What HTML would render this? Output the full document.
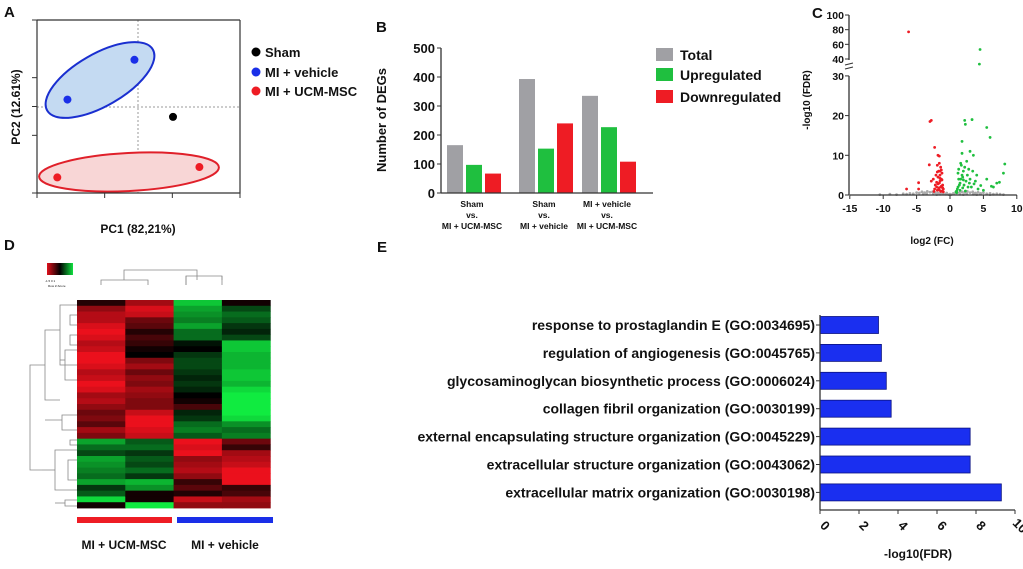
<!DOCTYPE html>
<html><head><meta charset="utf-8">
<style>
html,body{margin:0;padding:0;background:#fff;}
svg{display:block;font-family:"Liberation Sans",Arial,sans-serif;}
text{font-weight:bold;fill:#111;}
</style></head>
<body>
<svg id="fig" width="1023" height="569" viewBox="0 0 1023 569" xmlns="http://www.w3.org/2000/svg">
<!-- Panel labels -->
<text x="4" y="17" font-size="15">A</text>
<text x="376" y="32" font-size="15">B</text>
<text x="812" y="18" font-size="15">C</text>
<text x="4" y="250" font-size="15">D</text>
<text x="377" y="252" font-size="15">E</text>

<!-- Panel A -->
<g id="pA">
  <line x1="138" y1="20" x2="138" y2="193" stroke="#999" stroke-dasharray="2,2"/>
  <line x1="37" y1="107" x2="240" y2="107" stroke="#999" stroke-dasharray="2,2"/>
  <ellipse cx="100" cy="80" rx="61" ry="26" transform="rotate(-30 100 80)" fill="#c4daf2" stroke="#1a2fd0" stroke-width="2"/>
  <ellipse cx="129" cy="172" rx="90" ry="19" transform="rotate(-3 129 172)" fill="#f8d6d6" stroke="#e0202a" stroke-width="2"/>
  <path d="M37 20 V193 H240 V20" fill="none" stroke="#333" stroke-width="1.2"/>
  <line x1="37" y1="20" x2="240" y2="20" stroke="#333" stroke-width="1.2"/>
  <g id="pcaTicks" stroke="#333"></g>
  <g id="pcaPts"></g>
  <circle cx="256" cy="52" r="4.5" fill="#000"/>
  <circle cx="256" cy="72" r="4.5" fill="#1a2fe8"/>
  <circle cx="256" cy="91" r="4.5" fill="#ee1c24"/>
  <text x="265" y="57" font-size="13">Sham</text>
  <text x="265" y="77" font-size="13">MI + vehicle</text>
  <text x="265" y="96" font-size="13">MI + UCM-MSC</text>
  <text x="20" y="107" font-size="12" text-anchor="middle" transform="rotate(-90 20 107)">PC2 (12.61%)</text>
  <text x="138" y="233" font-size="12" text-anchor="middle">PC1 (82,21%)</text>
</g>

<!-- Panel B -->
<g id="pB">
  <g id="bBars"></g>
  <g id="bAxis"></g>
  <text x="386" y="120" font-size="13" text-anchor="middle" transform="rotate(-90 386 120)">Number of  DEGs</text>
  <rect x="656" y="48" width="17" height="13" fill="#a0a0a4"/>
  <rect x="656" y="68" width="17" height="13" fill="#1fbf3f"/>
  <rect x="656" y="90" width="17" height="13" fill="#ee1c24"/>
  <text x="680" y="60" font-size="14">Total</text>
  <text x="680" y="80" font-size="14">Upregulated</text>
  <text x="680" y="102" font-size="14">Downregulated</text>
</g>

<!-- Panel C -->
<g id="pC">
  <g id="cPts"></g>
  <g id="cAxis"></g>
  <text x="810" y="100" font-size="10" text-anchor="middle" transform="rotate(-90 810 100)">-log10 (FDR)</text>
  <text x="932" y="244" font-size="10" text-anchor="middle">log2 (FC)</text>
</g>

<!-- Panel D -->
<g id="pD">
  <defs><linearGradient id="keyg" x1="0" x2="1">
    <stop offset="0" stop-color="#e0101c"/><stop offset="0.5" stop-color="#000"/><stop offset="1" stop-color="#10e040"/></linearGradient></defs>
  <rect x="47" y="263" width="26" height="12" fill="url(#keyg)"/>
  <text x="45" y="282" font-size="3" style="font-weight:normal">-1.5   0   1</text>
  <text x="48" y="287" font-size="3" style="font-weight:normal">Row Z-Score</text>
  <g id="dCells"></g>
  <g id="dDend" fill="none" stroke="#888" stroke-width="0.8"></g>
  <rect x="77" y="517" width="95" height="6" fill="#ee1c24"/>
  <rect x="177" y="517" width="96" height="6" fill="#1a2fe8"/>
  <text x="124" y="549" font-size="12" text-anchor="middle">MI + UCM-MSC</text>
  <text x="225" y="549" font-size="12" text-anchor="middle">MI + vehicle</text>
</g>

<!-- Panel E -->
<g id="pE">
  <g id="eBars"></g>
  <g id="eAxis"></g>
  <text x="918" y="558" font-size="12" text-anchor="middle">-log10(FDR)</text>
</g>
</svg>
<script>
const NS="http://www.w3.org/2000/svg";
function mk(tag,attrs,parent,txt){const e=document.createElementNS(NS,tag);for(const k in attrs)e.setAttribute(k,attrs[k]);if(txt!==undefined)e.textContent=txt;parent.appendChild(e);return e;}

// ---------- Panel A data ----------
const pcaGroups=["Sham","MI + vehicle","MI + vehicle","MI + UCM-MSC","MI + UCM-MSC"];
const pcaX=[0.67,0.48,0.15,0.10,0.80];
const pcaY=[0.44,0.77,0.54,0.09,0.15];
const pcaColors={"Sham":"#000","MI + vehicle":"#1a2fe8","MI + UCM-MSC":"#ee1c24"};
const ax=v=>37+v*203, ay=v=>193-v*173;
const gT=document.getElementById('pcaTicks');
[0,1/3,2/3,1].forEach(t=>{const l=mk('line',{x1:ax(t),y1:193,x2:ax(t),y2:198},gT);

});
[0,1/3,1/2,2/3,1].forEach(t=>{const l=mk('line',{x1:32,y1:ay(t),x2:37,y2:ay(t)},gT);

});
const gP=document.getElementById('pcaPts');
pcaX.forEach((x,i)=>{const c=mk('circle',{cx:ax(x),cy:ay(pcaY[i]),r:4,fill:pcaColors[pcaGroups[i]]},gP);

});

// ---------- Panel B data ----------
const degCats=[["Sham","vs.","MI + UCM-MSC"],["Sham","vs.","MI + vehicle"],["MI + vehicle","vs.","MI + UCM-MSC"]];
const degTotal=[165,393,335];
const degUp=[97,153,227];
const degDown=[67,240,108];
const degTicks=[0,100,200,300,400,500];
const by=v=>193-v*0.29;
const gB=document.getElementById('bBars'), gBA=document.getElementById('bAxis');
const groupStart=[447,519,582];
const series=[[degTotal,"#a0a0a4","total"],[degUp,"#1fbf3f","up"],[degDown,"#ee1c24","down"]];
degCats.forEach((c,i)=>{
  series.forEach((s,j)=>{const v=s[0][i];const r=mk('rect',{x:groupStart[i]+j*19,y:by(v),width:16,height:by(0)-by(v),fill:s[1]},gB);
  
  });
  const cx=groupStart[i]+25;
  c.forEach((t,k)=>{const tx=mk('text',{x:cx,y:207+k*11,'font-size':8.5,'text-anchor':'middle'},gBA,t);
  
  });
});
mk('line',{x1:441,y1:by(500),x2:441,y2:by(0),stroke:'#333','stroke-width':1.3},gBA);
mk('line',{x1:441,y1:by(0),x2:653,y2:by(0),stroke:'#333','stroke-width':1.3},gBA);
degTicks.forEach(t=>{mk('line',{x1:437,y1:by(t),x2:441,y2:by(t),stroke:'#333'},gBA);
const tx=mk('text',{x:435,y:by(t)+5,'font-size':13,'text-anchor':'end'},gBA,t);

});

// ---------- Panel C data ----------
const volXTicks=[-15,-10,-5,0,5,10];
const volYTicksLow=[0,10,20,30];
const volYTicksHigh=[40,60,80,100];
const redX=[-6.2,-3.0,-2.8,-2.3,-3.1,-1.8,-1.6,-2.1,-2.8,-4.7,-4.7,-6.5,-2.5,-2.2,-1.5,-1.2,-1.4,-1.6,-1.3,-1.8,-1.5,-1.7,-1.4,-1.9,-1.6,-1.1,-2.0,-1.9,-1.0,-2.3,-1.2,-1.7,-1.5,-2.0,-1.3,-1.1,-1.4,-1.8,-1.2,-1.6,-2.4,-1.0,-1.3,-1.5,-1.9];
const redY=[77,18.5,18.8,12,7.6,10,9.8,5,3.5,3.1,1.5,1.5,4,2.5,6,1,2,3,4,4.5,5,6,7,7.5,8,2.5,2,1.2,0.8,1.5,5.5,1.8,3.5,3.2,6.3,1.8,0.9,2.8,3.8,1.3,0.9,1.5,2.2,4.2,5.8];
const greenX=[4.5,4.4,2.2,3.3,2.3,5.5,6.0,1.8,3.0,1.8,3.5,2.5,8.2,8.0,5.5,7.0,6.5,4.0,3.4,2.8,1.0,1.2,1.5,1.3,1.8,2.0,2.2,1.6,1.1,2.6,3.0,1.4,1.9,2.4,1.7,1.2,2.9,3.2,1.5,2.1,4.2,3.8,5.0,6.2,7.4,1.0,2.7,1.3,1.9,2.3,3.6,1.6,0.9,2.0,4.6];
const greenY=[53,33,18.8,19,17.8,17,14.5,13.5,11,10.5,10,8.5,7.8,5.5,4,3,2,5,6,6.5,1,2,3,4,5,6,7,8,1.5,5,4,2.5,4.5,3.5,7.5,5.5,3,2,1.2,2.5,1.5,3.5,1.2,2.2,3.2,0.6,2,6.5,1.8,1,2.8,4,0.8,3.8,2.4];
const grayX=[-10.5,-9,-8,-7,-6.5,-6,-5.5,-5,-4.6,-4.2,-3.8,-3.4,-3,-2.6,-2.2,-1.8,-1.4,-1,-0.6,-0.2,0.2,0.6,1,1.4,1.8,2.2,2.6,3,3.4,3.8,4.2,4.6,5,5.5,6,6.5,7,7.5,8,-3.5,-2.5,-1.5,-0.5,0.5,1.5,2.5,3.5,4.5,-4,-2,0,2,4,6];
const grayY=[0.1,0.2,0.1,0.3,0.2,0.4,0.3,0.6,0.5,0.8,0.6,0.9,0.7,0.8,0.6,0.5,0.4,0.3,0.2,0.1,0.1,0.3,0.5,0.6,0.8,0.7,0.9,0.6,0.8,0.5,0.7,0.4,0.6,0.3,0.4,0.2,0.3,0.2,0.1,0.3,0.4,0.2,0.5,0.4,0.2,0.3,0.2,0.3,0.2,0.1,0.2,0.1,0.1,0.1];
const cx=v=>950+v*6.68;
const cy=v=> v<=30 ? 195-v*3.97 : 59-(v-40)*0.733;
const gC=document.getElementById('cPts'), gCA=document.getElementById('cAxis');
function pts(xs,ys,col,name){xs.forEach((x,i)=>{const c=mk('circle',{cx:cx(x),cy:cy(ys[i]),r:1.4,fill:col},gC);

});}
pts(grayX,grayY,'#aaa','gray-point');
pts(redX,redY,'#ee1c24','down-point');
pts(greenX,greenY,'#1fbf3f','up-point');
mk('line',{x1:cx(-15),y1:195,x2:cx(10),y2:195,stroke:'#333','stroke-width':1.3},gCA);
mk('line',{x1:849,y1:cy(0),x2:849,y2:cy(30),stroke:'#333','stroke-width':1.3},gCA);
mk('line',{x1:849,y1:cy(40)+1,x2:849,y2:cy(100),stroke:'#333','stroke-width':1.3},gCA);
mk('path',{d:'M845 65 L853 63 M845 69 L853 67',stroke:'#333',fill:'none'},gCA);
volXTicks.forEach(t=>{mk('line',{x1:cx(t),y1:195,x2:cx(t),y2:199,stroke:'#333'},gCA);
const tx=mk('text',{x:cx(t),y:212,'font-size':10.5,'text-anchor':'middle'},gCA,t);

});
volYTicksLow.concat(volYTicksHigh).forEach(t=>{mk('line',{x1:845,y1:cy(t),x2:849,y2:cy(t),stroke:'#333'},gCA);
const tx=mk('text',{x:844,y:cy(t)+4,'font-size':10.5,'text-anchor':'end'},gCA,t);

});

// ---------- Panel D data ----------
const heatC1=[-0.2,-0.8,-1.0,-1.0,-1.2,-1.3,-1.2,-1.0,-1.1,-1.4,-1.4,-1.2,-1.0,-1.1,-1.3,-1.2,-0.9,-1.0,-0.8,-0.6,-0.7,-0.5,-0.9,-0.7,0.9,0.6,0.4,0.9,0.8,0.7,0.6,0.9,0.3,0.5,1.2,-0.1];
const heatC2=[-0.9,-1.2,-1.1,-0.6,-0.5,-0.2,-0.4,-0.3,-0.1,0.0,-0.7,-0.9,-0.6,-0.8,-0.7,-0.9,-0.8,-0.7,-0.7,-1.1,-1.3,-1.3,-1.2,-1.1,0.5,0.6,0.3,0.5,0.4,0.6,0.3,1.0,0.8,-0.1,-0.1,1.3];
const heatC3=[1.1,0.9,0.8,0.7,0.9,0.6,0.6,0.1,0.0,0.3,0.4,0.4,0.3,0.2,0.3,0.2,0.0,-0.1,-0.4,0.2,0.3,0.6,0.7,0.5,-1.3,-1.2,-1.3,-0.8,-0.9,-1.0,-0.8,-0.3,-0.5,-0.2,-1.1,-0.8];
const heatC4=[-0.1,0.4,0.6,0.5,0.3,0.2,0.4,1.1,1.1,1.0,1.0,1.0,1.1,1.1,1.0,1.2,1.3,1.3,1.3,1.3,1.2,0.8,0.6,0.7,-0.6,-0.3,-0.9,-1.0,-1.1,-1.3,-1.4,-1.4,-0.3,-0.4,-0.9,-0.8];
function hcol(v){const t=Math.min(1,Math.abs(v)/1.3);const c=Math.round(t*235);return v<0?`rgb(${c},${Math.round(t*16)},${Math.round(t*28)})`:`rgb(${Math.round(t*16)},${c},${Math.round(t*64)})`;}
const gD=document.getElementById('dCells');
const rows=heatC1.length, rh=208/rows;
[heatC1,heatC2,heatC3,heatC4].forEach((col,ci)=>{col.forEach((v,ri)=>{
  const r=mk('rect',{x:77+ci*48.3,y:300+ri*rh,width:48.8,height:rh+0.4,fill:hcol(v)},gD);
  
  });});
const gDD=document.getElementById('dDend');
const dd=['M101 285 V280 H148 V285','M124 280 V270 H197 V280','M186 285 V276 H222 V280 H222','M186 276 V285','M222 276 V285','M197 276 V276',
'M77 305 H60 V365 H77','M60 330 H45 V400 H60','M77 350 H65 V380 H77','M65 360 H60','M77 415 H62 V430 H77','M62 420 H45',
'M45 365 H30 V470 H42','M77 450 H55 V490 H77','M55 470 H42','M77 500 H65 V506 H77','M65 503 H55','M77 315 H70 V325 H77','M77 335 H70 V345 H77',
'M77 460 H68 V480 H77','M77 440 H70 V445 H77'];
dd.forEach(d=>{const p=mk('path',{d:d},gDD);

});

// ---------- Panel E data ----------
const goTerms=["response to prostaglandin E (GO:0034695)","regulation of angiogenesis (GO:0045765)","glycosaminoglycan biosynthetic process (GO:0006024)","collagen fibril organization (GO:0030199)","external encapsulating structure organization (GO:0045229)","extracellular structure organization (GO:0043062)","extracellular matrix organization (GO:0030198)"];
const goValues=[3.0,3.15,3.4,3.65,7.7,7.7,9.3];
const goTicks=[0,2,4,6,8,10];
const ex=v=>820+v*19.5;
const ey=i=>325+i*27.9;
const gE=document.getElementById('eBars'), gEA=document.getElementById('eAxis');
goTerms.forEach((t,i)=>{const r=mk('rect',{x:ex(0),y:ey(i)-8.5,width:ex(goValues[i])-ex(0),height:17,fill:'#1a2ff0',stroke:'#0a1280','stroke-width':0.8},gE);


mk('line',{x1:816,y1:ey(i),x2:820,y2:ey(i),stroke:'#333'},gEA);
const tx=mk('text',{x:815,y:ey(i)+5,'font-size':14,'text-anchor':'end'},gEA,t);

});
mk('line',{x1:820,y1:315,x2:820,y2:510,stroke:'#333','stroke-width':1.3},gEA);
mk('line',{x1:820,y1:510,x2:ex(10),y2:510,stroke:'#333','stroke-width':1.3},gEA);
goTicks.forEach(t=>{mk('line',{x1:ex(t),y1:510,x2:ex(t),y2:514,stroke:'#333'},gEA);
const tx=mk('text',{x:ex(t)+4,y:528,'font-size':13,'text-anchor':'middle',transform:`rotate(45 ${ex(t)+2} 526)`},gEA,t);

});
</script>
</body></html>
